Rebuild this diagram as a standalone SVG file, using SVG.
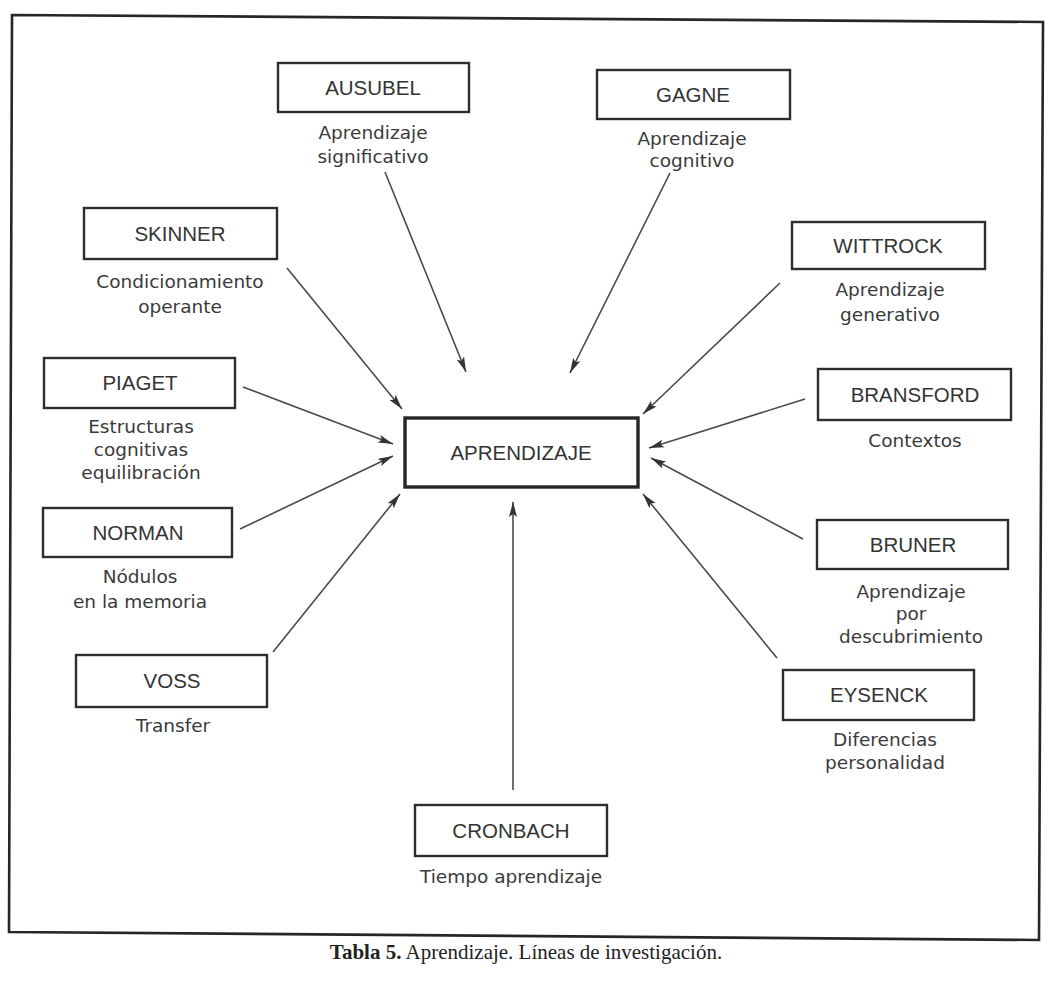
<svg xmlns="http://www.w3.org/2000/svg" width="1052" height="983" viewBox="0 0 1052 983">
<style>
.box{fill:#fff;stroke:#2e2e2e;stroke-width:2.4}
.main{fill:#fff;stroke:#262626;stroke-width:3.4}
.lbl{font-family:"Liberation Sans",Arial,sans-serif;font-size:20.5px;fill:#333;text-anchor:middle}
.cap{font-family:"DejaVu Sans","Liberation Sans",sans-serif;font-size:18.5px;fill:#3a3a3a;text-anchor:middle}
.con line{stroke:#4a4a4a;stroke-width:1.6;marker-end:url(#ah)}
.frame{fill:none;stroke:#262626;stroke-width:2.6}
.title{font-family:"Liberation Serif","Times New Roman",serif;font-size:21px;fill:#222;text-anchor:middle}
</style>
<defs>
<marker id="ah" markerUnits="userSpaceOnUse" markerWidth="16" markerHeight="10" refX="15" refY="5" orient="auto">
<path d="M0,1 L15,5 L0,9 L3,5 Z" fill="#333"/>
</marker>
</defs>
<rect width="1052" height="983" fill="#fff"/>
<path class="frame" d="M12,15 L1043,22 L1039,940 L9,932 Z"/>
<g class="con" id="connectors">
<line x1="385" y1="172" x2="466" y2="372"/>
<line x1="670" y1="173" x2="570" y2="373"/>
<line x1="287" y1="268" x2="402" y2="409"/>
<line x1="780" y1="283" x2="643" y2="414"/>
<line x1="243" y1="387" x2="393" y2="444"/>
<line x1="240" y1="529" x2="393" y2="456"/>
<line x1="273" y1="652" x2="400" y2="494"/>
<line x1="805" y1="399" x2="649" y2="448"/>
<line x1="803" y1="539" x2="651" y2="458"/>
<line x1="777" y1="658" x2="643" y2="494"/>
<line x1="513" y1="790" x2="513" y2="502"/>
</g>
<g id="aprendizaje">
<rect class="main" x="405" y="418" width="233" height="69"/>
<text class="lbl" x="521" y="460">APRENDIZAJE</text>
</g>
<g id="ausubel">
<rect class="box" x="278" y="63" width="191" height="49"/>
<text class="lbl" x="373" y="95">AUSUBEL</text>
<text class="cap" x="373" y="139">Aprendizaje</text>
<text class="cap" x="373" y="163">significativo</text>
</g>
<g id="gagne">
<rect class="box" x="597" y="70" width="193" height="49"/>
<text class="lbl" x="693" y="102">GAGNE</text>
<text class="cap" x="692" y="145">Aprendizaje</text>
<text class="cap" x="692" y="167">cognitivo</text>
</g>
<g id="skinner">
<rect class="box" x="84" y="208" width="193" height="51"/>
<text class="lbl" x="180" y="241">SKINNER</text>
<text class="cap" x="180" y="288">Condicionamiento</text>
<text class="cap" x="180" y="313">operante</text>
</g>
<g id="wittrock">
<rect class="box" x="792" y="222" width="193" height="47"/>
<text class="lbl" x="888" y="253">WITTROCK</text>
<text class="cap" x="890" y="296">Aprendizaje</text>
<text class="cap" x="890" y="321">generativo</text>
</g>
<g id="piaget">
<rect class="box" x="44" y="358" width="191" height="50"/>
<text class="lbl" x="140" y="390">PIAGET</text>
<text class="cap" x="141" y="433">Estructuras</text>
<text class="cap" x="141" y="456">cognitivas</text>
<text class="cap" x="141" y="479">equilibración</text>
</g>
<g id="norman">
<rect class="box" x="43" y="508" width="189" height="49"/>
<text class="lbl" x="138" y="540">NORMAN</text>
<text class="cap" x="140" y="583">Nódulos</text>
<text class="cap" x="140" y="608">en la memoria</text>
</g>
<g id="bransford">
<rect class="box" x="818" y="369" width="193" height="51"/>
<text class="lbl" x="915" y="402">BRANSFORD</text>
<text class="cap" x="915" y="447">Contextos</text>
</g>
<g id="bruner">
<rect class="box" x="817" y="520" width="191" height="49"/>
<text class="lbl" x="913" y="552">BRUNER</text>
<text class="cap" x="911" y="598">Aprendizaje</text>
<text class="cap" x="911" y="620">por</text>
<text class="cap" x="911" y="643">descubrimiento</text>
</g>
<g id="voss">
<rect class="box" x="76" y="655" width="191" height="52"/>
<text class="lbl" x="172" y="688">VOSS</text>
<text class="cap" x="173" y="732">Transfer</text>
</g>
<g id="eysenck">
<rect class="box" x="783" y="670" width="191" height="50"/>
<text class="lbl" x="879" y="702">EYSENCK</text>
<text class="cap" x="885" y="746">Diferencias</text>
<text class="cap" x="885" y="769">personalidad</text>
</g>
<g id="cronbach">
<rect class="box" x="415" y="805" width="192" height="51"/>
<text class="lbl" x="511" y="838">CRONBACH</text>
<text class="cap" x="511" y="883">Tiempo aprendizaje</text>
</g>
<text class="title" x="526" y="959"><tspan font-weight="bold">Tabla 5.</tspan> Aprendizaje. Líneas de investigación.</text>
</svg>
